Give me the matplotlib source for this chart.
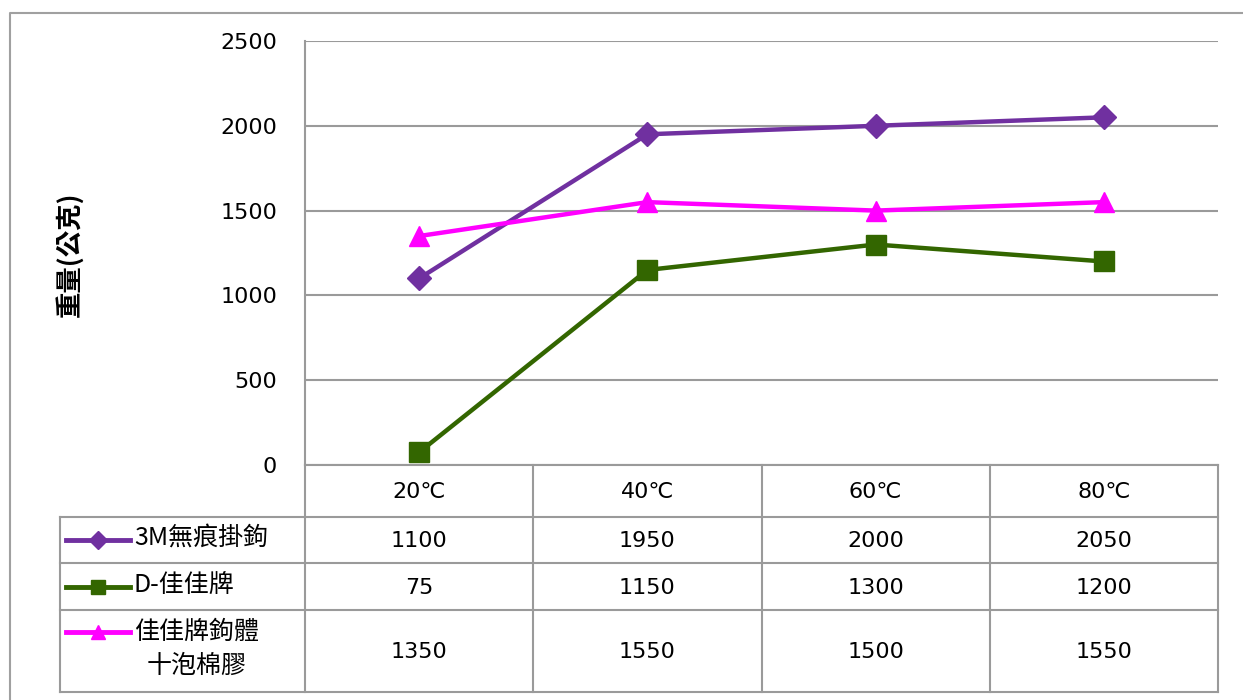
import matplotlib
matplotlib.use("Agg")
import matplotlib.pyplot as plt
from matplotlib.lines import Line2D
from matplotlib.transforms import blended_transform_factory

plt.rcParams["font.family"] = ["DejaVu Sans", "Noto Sans CJK TC"]

# data
categories = ["20℃", "40℃", "60℃", "80℃"]
series_names = ["3M無痕掛鉤", "D-佳佳牌", "佳佳牌鉤體\n十泡棉膠"]
hook_3m = [1100, 1950, 2000, 2050]
hook_d = [75, 1150, 1300, 1200]
hook_foam = [1350, 1550, 1500, 1550]
y_ticks = [0, 500, 1000, 1500, 2000, 2500]
ylabel = "重量(公克)"

series = [hook_3m, hook_d, hook_foam]
colors = ["#7030A0", "#336600", "#FF00FF"]
markers = ["D", "s", "^"]
msizes = [12, 14, 14]

W, H = 1243, 700
GRID = "#9a9a9a"


def fx(x):
    return x / W


def fy(y):
    return 1 - y / H


fig = plt.figure(figsize=(W / 100, H / 100), dpi=100)
ax = fig.add_axes([fx(305), fy(465), (1218 - 305) / W, (465 - 41) / H])

xs = list(range(len(categories)))
for vals, c, m, ms in zip(series, colors, markers, msizes):
    ax.plot(xs, vals, color=c, lw=3.2, marker=m, markersize=ms, zorder=3)

ax.set_xlim(-0.5, len(categories) - 0.5)
ax.set_ylim(0, 2500)
ax.set_yticks(y_ticks)
ax.set_yticklabels([str(v) for v in y_ticks], fontsize=16)
ax.set_xticks([])
ax.tick_params(axis="y", length=0, pad=20)
ax.grid(axis="y", color=GRID, lw=1.5, zorder=0)
for s in ["top", "right"]:
    ax.spines[s].set_visible(False)
for s in ["left", "bottom"]:
    ax.spines[s].set_color(GRID)
    ax.spines[s].set_linewidth(1.5)

fig.text(fx(70), fy(254), ylabel, rotation=90, ha="center", va="center",
         fontsize=19, fontweight="bold", family=["Noto Sans CJK TC"])

# outer chart frame
fig.add_artist(Line2D([fx(10), fx(10), fx(1243)], [fy(700), fy(13), fy(13)],
                      color="#a0a0a0", lw=1.5))

# data table
tr = blended_transform_factory(ax.transData, fig.transFigure)
row_edges = [465, 517, 563, 610, 692]
n = len(categories)

# vertical column lines
for i in range(n + 1):
    fig.add_artist(Line2D([i - 0.5, i - 0.5], [fy(465), fy(692)], color=GRID,
                          lw=1.5, transform=tr))
fig.add_artist(Line2D([fx(60), fx(60)], [fy(517), fy(692)], color=GRID, lw=1.5))
# horizontal row lines
for y in row_edges[1:]:
    fig.add_artist(Line2D([fx(60), fx(1218)], [fy(y), fy(y)], color=GRID, lw=1.5))

# header
for i, cat in enumerate(categories):
    fig.text(i, fy(492), cat, transform=tr, ha="center", va="center", fontsize=16)

# rows
for r, (name, vals, c, m, ms) in enumerate(zip(series_names, series, colors, markers, msizes)):
    top, bot = row_edges[r + 1], row_edges[r + 2]
    cy = (top + bot) / 2
    for i, v in enumerate(vals):
        fig.text(i, fy(cy + 1), str(v), transform=tr, ha="center", va="center",
                 fontsize=16)
    ky = cy if "\n" not in name else top + 22
    fig.add_artist(Line2D([fx(66), fx(130)], [fy(ky), fy(ky)], color=c, lw=3.5))
    fig.add_artist(Line2D([fx(98)], [fy(ky)], color=c, marker=m,
                          markersize=ms * 0.75, lw=0))
    fig.text(fx(134), fy(cy - 2), name, ha="left", va="center", fontsize=18,
             multialignment="center", linespacing=1.4,
             family=["Noto Sans CJK TC", "DejaVu Sans"])

fig.savefig("out.png", dpi=100)
